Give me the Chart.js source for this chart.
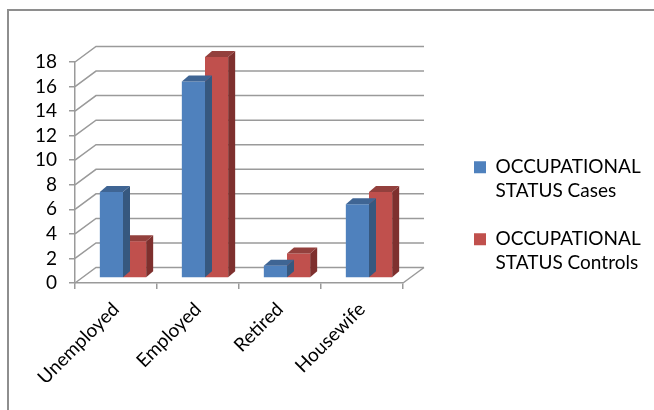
<!DOCTYPE html>
<html><head><meta charset="utf-8">
<script src="https://cdn.jsdelivr.net/npm/chart.js@4.4.0/dist/chart.umd.min.js"></script>
<style>
html,body{margin:0;padding:0;background:#fff;}
#wrap{position:relative;width:654px;height:410px;overflow:hidden;background:#fff;}
#frame{position:absolute;left:7px;top:9px;width:700px;height:500px;border-top:2px solid #8e8e8e;border-left:2px solid #8e8e8e;box-sizing:border-box;}
canvas{position:absolute;left:0;top:0;}
</style></head><body>
<div id="wrap"><div id="frame"></div><canvas id="c" width="654" height="410"></canvas></div>
<script>
// ---- data ----
const categories = ['Unemployed', 'Employed', 'Retired', 'Housewife'];
const casesValues = [7, 16, 1, 6];
const controlsValues = [3, 18, 2, 7];
const seriesLabels = ['OCCUPATIONAL STATUS Cases', 'OCCUPATIONAL STATUS Controls'];
const yTickValues = [0, 2, 4, 6, 8, 10, 12, 14, 16, 18];

// ---- style / layout ----
const FONT = 'Lato, "Open Sans", sans-serif';
const faceStyle = [
  {front: '#4F81BD', side: '#36587F', top: '#3F6594'},
  {front: '#C0504D', side: '#7E302E', top: '#93403D'}
];
const DEPTH = {wallX: 21, wallY: 15.5, barX: 7, barY: 5, faceX: 7, faceY: 6};
const GRID = '#9a9a9a';
const LAYOUT = {width: 654, plotRight: 403, legendBoxX: 474, legendPad: 24, topGap: 33.5};
let rightGap = 49;

const threeD = {
  id: 'threeD',
  beforeDatasetsDraw(chart) {
    const {ctx, chartArea: a, scales: {y}} = chart;
    ctx.save();
    ctx.strokeStyle = GRID;
    ctx.lineWidth = 1.5;
    yTickValues.forEach(v => {
      const py = y.getPixelForValue(v);
      ctx.beginPath();
      ctx.moveTo(a.left, py);
      ctx.lineTo(a.left + DEPTH.wallX, py - DEPTH.wallY);
      ctx.lineTo(a.right + DEPTH.wallX, py - DEPTH.wallY);
      ctx.stroke();
    });
    ctx.beginPath();
    ctx.moveTo(a.right, a.bottom);
    ctx.lineTo(a.right + DEPTH.wallX, a.bottom - DEPTH.wallY);
    ctx.stroke();
    ctx.restore();
    ctx.save();
    ctx.translate(DEPTH.barX, -DEPTH.barY);
  },
  afterDatasetDraw(chart, args) {
    const ctx = chart.ctx;
    const st = faceStyle[args.index];
    args.meta.data.forEach(bar => {
      const {x, y, base, width} = bar.getProps(['x', 'y', 'base', 'width'], true);
      const l = x - width / 2, r = x + width / 2;
      const fx = DEPTH.faceX, fy = DEPTH.faceY;
      ctx.fillStyle = st.side;
      ctx.beginPath();
      ctx.moveTo(r, y); ctx.lineTo(r + fx, y - fy); ctx.lineTo(r + fx, base - fy); ctx.lineTo(r, base);
      ctx.closePath(); ctx.fill();
      ctx.fillStyle = st.top;
      ctx.beginPath();
      ctx.moveTo(l, y); ctx.lineTo(l + fx, y - fy); ctx.lineTo(r + fx, y - fy); ctx.lineTo(r, y);
      ctx.closePath(); ctx.fill();
    });
  },
  afterDatasetsDraw(chart) { chart.ctx.restore(); }
};

const chart = new Chart(document.getElementById('c'), {
  type: 'bar',
  data: {
    labels: categories,
    datasets: [
      {label: seriesLabels[0], data: casesValues, backgroundColor: faceStyle[0].front, borderWidth: 0, clip: false},
      {label: seriesLabels[1], data: controlsValues, backgroundColor: faceStyle[1].front, borderWidth: 0, clip: false}
    ]
  },
  options: {
    responsive: false,
    animation: false,
    devicePixelRatio: 1,
    layout: {padding: {top: 28.5, left: 0, right: 0, bottom: 3}},
    datasets: {bar: {categoryPercentage: 0.565, barPercentage: 1}},
    scales: {
      x: {
        grid: {display: true, drawOnChartArea: false, drawTicks: true, tickLength: 6, color: GRID, lineWidth: 1.5},
        border: {display: true, color: GRID, width: 1.5},
        ticks: {autoSkip: false, maxRotation: 45, minRotation: 45, padding: 9, labelOffset: 0, color: '#000', font: {family: FONT, size: 19}},
        afterFit(s) { s.height = 124; }
      },
      y: {
        min: 0, max: 18,
        afterBuildTicks(s) { s.ticks = yTickValues.map(v => ({value: v})); },
        grid: {display: true, drawOnChartArea: false, drawTicks: true, tickLength: 6, color: GRID, lineWidth: 1.5},
        border: {display: true, color: GRID, width: 1.5},
        ticks: {autoSkip: false, padding: 12, color: '#000', font: {family: FONT, size: 19}},
        afterFit(s) { s.width = 75; }
      },
      gap: {
        type: 'linear', position: 'right', display: true,
        grid: {display: false}, border: {display: false}, ticks: {display: false},
        afterFit(s) { s.width = rightGap; }
      },
      topSpace: {
        type: 'linear', position: 'top', display: true,
        grid: {display: false}, border: {display: false}, ticks: {display: false},
        afterFit(s) { s.height = LAYOUT.topGap; }
      }
    },
    plugins: {
      tooltip: {enabled: false},
      legend: {
        position: 'right', align: 'center', maxWidth: 400,
        labels: {
          boxWidth: 12, boxHeight: 12, padding: LAYOUT.legendPad, color: '#000',
          font: {family: FONT, size: 19, lineHeight: 1.263},
          generateLabels(ch) {
            const items = Chart.defaults.plugins.legend.labels.generateLabels(ch);
            items.forEach(it => {
              const i = it.text.indexOf(' ');
              it.text = [it.text.slice(0, i), it.text.slice(i + 1)];
              it.lineWidth = 0;
            });
            return items;
          }
        }
      }
    }
  },
  plugins: [threeD]
});

// second pass: place the legend and plot edge where the reference has them
(function fit() {
  const natural = chart.legend.width;
  let legendLeft = LAYOUT.legendBoxX - LAYOUT.legendPad;
  let pr = LAYOUT.width - legendLeft - natural;
  if (pr < 0) { pr = 0; legendLeft = LAYOUT.width - natural; }
  rightGap = legendLeft - LAYOUT.plotRight;
  chart.options.layout.padding.right = pr;
  chart.update();
})();
</script>
</body></html>
